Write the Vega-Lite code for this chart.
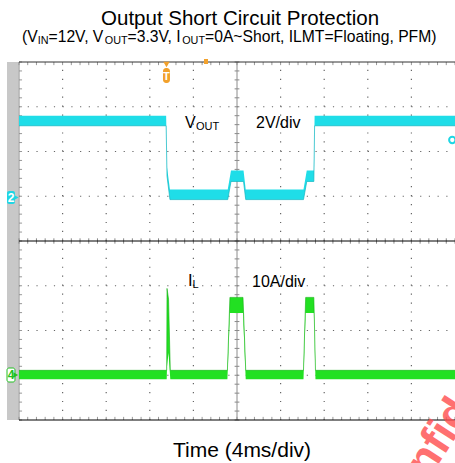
{
  "$schema": "https://vega.github.io/schema/vega-lite/v6.json",
  "width": 436,
  "height": 358,
  "autosize": {"type": "none"},
  "padding": {"left": 19, "top": 62, "right": 0, "bottom": 43},
  "background": "white",
  "config": {"view": {"stroke": null}, "axis": {"disable": true}, "font": "Liberation Sans"},
  "datasets": {
    "one": [{}],
    "vout": [
      {"t": 0, "lo": 3.15, "hi": 3.6},
      {"t": 13.5, "lo": 3.15, "hi": 3.6},
      {"t": 13.58, "lo": 0.9, "hi": 1.3},
      {"t": 13.85, "lo": -0.15, "hi": 0.3},
      {"t": 19.15, "lo": -0.15, "hi": 0.3},
      {"t": 19.45, "lo": 0.66, "hi": 1.15},
      {"t": 20.6, "lo": 0.66, "hi": 1.15},
      {"t": 20.8, "lo": -0.15, "hi": 0.3},
      {"t": 26.1, "lo": -0.15, "hi": 0.3},
      {"t": 26.4, "lo": 0.66, "hi": 1.15},
      {"t": 27.05, "lo": 0.66, "hi": 1.15},
      {"t": 27.12, "lo": 3.15, "hi": 3.6},
      {"t": 40, "lo": 3.15, "hi": 3.6}
    ],
    "il": [
      {"t": 0, "lo": -0.9, "hi": 1.1},
      {"t": 13.55, "lo": -0.9, "hi": 1.1},
      {"t": 13.58, "lo": 2, "hi": 19.4},
      {"t": 13.72, "lo": 5, "hi": 17},
      {"t": 13.88, "lo": -0.9, "hi": 1.1},
      {"t": 19.12, "lo": -0.9, "hi": 1.1},
      {"t": 19.35, "lo": 13.9, "hi": 17.4},
      {"t": 20.55, "lo": 13.9, "hi": 17.4},
      {"t": 20.8, "lo": -0.9, "hi": 1.1},
      {"t": 26.1, "lo": -0.9, "hi": 1.1},
      {"t": 26.3, "lo": 13.9, "hi": 17.4},
      {"t": 27.05, "lo": 13.9, "hi": 17.4},
      {"t": 27.2, "lo": -0.9, "hi": 1.1},
      {"t": 40, "lo": -0.9, "hi": 1.1}
    ],
    "xt": [{"t":0},{"t":0.8},{"t":1.6},{"t":2.4},{"t":3.2},{"t":4},{"t":4.8},{"t":5.6},{"t":6.4},{"t":7.2},{"t":8},{"t":8.8},{"t":9.6},{"t":10.4},{"t":11.2},{"t":12},{"t":12.8},{"t":13.6},{"t":14.4},{"t":15.2},{"t":16},{"t":16.8},{"t":17.6},{"t":18.4},{"t":19.2},{"t":20},{"t":20.8},{"t":21.6},{"t":22.4},{"t":23.2},{"t":24},{"t":24.8},{"t":25.6},{"t":26.4},{"t":27.2},{"t":28},{"t":28.8},{"t":29.6},{"t":30.4},{"t":31.2},{"t":32},{"t":32.8},{"t":33.6},{"t":34.4},{"t":35.2},{"t":36},{"t":36.8},{"t":37.6},{"t":38.4},{"t":39.2},{"t":40}],
    "yt": [{"d":-4},{"d":-3.8},{"d":-3.6},{"d":-3.4},{"d":-3.2},{"d":-3},{"d":-2.8},{"d":-2.6},{"d":-2.4},{"d":-2.2},{"d":-2},{"d":-1.8},{"d":-1.6},{"d":-1.4},{"d":-1.2},{"d":-1},{"d":-0.8},{"d":-0.6},{"d":-0.4},{"d":-0.2},{"d":0},{"d":0.2},{"d":0.4},{"d":0.6},{"d":0.8},{"d":1},{"d":1.2},{"d":1.4},{"d":1.6},{"d":1.8},{"d":2},{"d":2.2},{"d":2.4},{"d":2.6},{"d":2.8},{"d":3},{"d":3.2},{"d":3.4},{"d":3.6},{"d":3.8},{"d":4}]
  },
  "layer": [
    {
      "data": {"name": "one"},
      "layer": [
        {
          "mark": {"type": "rect", "color": "#c8c8c8"},
          "encoding": {
            "x": {"datum": -1.1, "scale": {"domain": [0, 40], "nice": false, "zero": false}},
            "x2": {"datum": -0.06},
            "y": {"datum": -4, "scale": {"domain": [-4, 4], "nice": false, "zero": false}},
            "y2": {"datum": 4}
          }
        },
        {
          "data": {"values": [{"t": 4}, {"t": 8}, {"t": 12}, {"t": 16}, {"t": 24}, {"t": 28}, {"t": 32}, {"t": 36}]},
          "mark": {"type": "rule", "color": "#666666", "strokeWidth": 1.2, "strokeDash": [1.2, 7.75]},
          "encoding": {"x": {"field": "t", "type": "quantitative"}, "y": {"datum": -4}, "y2": {"datum": 4}}
        },
        {
          "data": {"values": [{"d": -3}, {"d": -2}, {"d": -1}, {"d": 1}, {"d": 2}, {"d": 3}]},
          "mark": {"type": "rule", "color": "#666666", "strokeWidth": 1.2, "strokeDash": [1.2, 7.52]},
          "encoding": {"y": {"field": "d", "type": "quantitative"}, "x": {"datum": 0}, "x2": {"datum": 40}}
        },
        {
          "data": {"name": "xt"},
          "mark": {"type": "rule", "color": "#888888"},
          "encoding": {"x": {"field": "t", "type": "quantitative"}, "y": {"datum": -0.06}, "y2": {"datum": 0.06}}
        },
        {
          "data": {"name": "xt"},
          "mark": {"type": "rule", "color": "#999999"},
          "encoding": {"x": {"field": "t", "type": "quantitative"}, "y": {"datum": 4}, "y2": {"datum": 3.93}}
        },
        {
          "data": {"name": "xt"},
          "mark": {"type": "rule", "color": "#999999"},
          "encoding": {"x": {"field": "t", "type": "quantitative"}, "y": {"datum": -4}, "y2": {"datum": -3.93}}
        },
        {
          "data": {"name": "yt"},
          "mark": {"type": "rule", "color": "#888888"},
          "encoding": {"y": {"field": "d", "type": "quantitative"}, "x": {"datum": 19.78}, "x2": {"datum": 20.22}}
        },
        {
          "data": {"name": "yt"},
          "mark": {"type": "rule", "color": "#999999"},
          "encoding": {"y": {"field": "d", "type": "quantitative"}, "x": {"datum": 0}, "x2": {"datum": 0.28}}
        },
        {
          "mark": {"type": "rule", "color": "#8c8c8c"},
          "encoding": {"x": {"datum": 20}, "y": {"datum": -4}, "y2": {"datum": 4}}
        },
        {
          "mark": {"type": "rule", "color": "#888888"},
          "encoding": {"x": {"datum": 0}, "y": {"datum": -4}, "y2": {"datum": 4}}
        },
        {
          "mark": {"type": "rule", "color": "#000000"},
          "encoding": {"y": {"datum": 0}, "x": {"datum": 0}, "x2": {"datum": 40}}
        },
        {
          "mark": {"type": "rule", "color": "#333333"},
          "encoding": {"y": {"datum": 4}, "x": {"datum": 0}, "x2": {"datum": 40}}
        },
        {
          "mark": {"type": "rule", "color": "#000000"},
          "encoding": {"y": {"datum": -4}, "x": {"datum": 0}, "x2": {"datum": 40}}
        }
      ]
    },
    {
      "data": {"name": "vout"},
      "layer": [
        {
          "mark": {"type": "area", "color": "#1fdde8", "opacity": 1},
          "encoding": {
            "x": {"field": "t", "type": "quantitative", "scale": {"domain": [0, 40], "nice": false, "zero": false}},
            "y": {"field": "lo", "type": "quantitative", "scale": {"domain": [-10, 6], "nice": false, "zero": false}},
            "y2": {"field": "hi"}
          }
        },
        {
          "mark": {"type": "line", "color": "#11b5c0", "strokeWidth": 1, "opacity": 0.7},
          "encoding": {
            "x": {"field": "t", "type": "quantitative"},
            "y": {"field": "lo", "type": "quantitative"}
          }
        }
      ]
    },
    {
      "data": {"name": "il"},
      "layer": [
        {
          "mark": {"type": "area", "color": "#22e022", "opacity": 1},
          "encoding": {
            "x": {"field": "t", "type": "quantitative", "scale": {"domain": [0, 40], "nice": false, "zero": false}},
            "y": {"field": "lo", "type": "quantitative", "scale": {"domain": [-10, 70], "nice": false, "zero": false}},
            "y2": {"field": "hi"}
          }
        },
        {
          "mark": {"type": "line", "color": "#13b013", "strokeWidth": 1, "opacity": 0.6},
          "encoding": {
            "x": {"field": "t", "type": "quantitative"},
            "y": {"field": "hi", "type": "quantitative"}
          }
        }
      ]
    },
    {
      "data": {"name": "one"},
      "layer": [
        {
          "mark": {"type": "text", "text": "Output Short Circuit Protection", "fontSize": 20.5, "align": "center", "baseline": "alphabetic", "color": "#000000"},
          "encoding": {
            "x": {"datum": 20.28, "scale": {"domain": [0, 40], "nice": false, "zero": false}},
            "y": {"datum": 4.82, "scale": {"domain": [-4, 4], "nice": false, "zero": false}}
          }
        },
        {"mark": {"type": "text", "text": "(V", "fontSize": 15.7, "align": "left", "baseline": "alphabetic", "color": "#000000"}, "encoding": {"x": {"datum": 0.275}, "y": {"datum": 4.448}}},
        {"mark": {"type": "text", "text": "IN", "fontSize": 10.8, "align": "left", "baseline": "alphabetic", "color": "#000000"}, "encoding": {"x": {"datum": 1.716}, "y": {"datum": 4.403}}},
        {"mark": {"type": "text", "text": "=12V, V", "fontSize": 15.7, "align": "left", "baseline": "alphabetic", "color": "#000000"}, "encoding": {"x": {"datum": 2.706}, "y": {"datum": 4.448}}},
        {"mark": {"type": "text", "text": "OUT", "fontSize": 10.8, "align": "left", "baseline": "alphabetic", "color": "#000000"}, "encoding": {"x": {"datum": 7.872}, "y": {"datum": 4.403}}},
        {"mark": {"type": "text", "text": "=3.3V, I", "fontSize": 15.7, "align": "left", "baseline": "alphabetic", "color": "#000000"}, "encoding": {"x": {"datum": 9.963}, "y": {"datum": 4.448}}},
        {"mark": {"type": "text", "text": "OUT", "fontSize": 10.8, "align": "left", "baseline": "alphabetic", "color": "#000000"}, "encoding": {"x": {"datum": 14.972}, "y": {"datum": 4.403}}},
        {"mark": {"type": "text", "text": "=0A~Short, ILMT=Floating, PFM)", "fontSize": 15.7, "align": "left", "baseline": "alphabetic", "color": "#000000"}, "encoding": {"x": {"datum": 17.064}, "y": {"datum": 4.448}}},
        {"mark": {"type": "text", "text": "Time (4ms/div)", "fontSize": 21, "align": "center", "baseline": "alphabetic", "color": "#000000"}, "encoding": {"x": {"datum": 20.46}, "y": {"datum": -4.816}}},
        {"mark": {"type": "text", "text": "V", "fontSize": 16, "align": "left", "baseline": "alphabetic", "color": "#000000"}, "encoding": {"x": {"datum": 15.229}, "y": {"datum": 2.525}}},
        {"mark": {"type": "text", "text": "OUT", "fontSize": 11, "align": "left", "baseline": "alphabetic", "color": "#000000"}, "encoding": {"x": {"datum": 16.239}, "y": {"datum": 2.48}}},
        {"mark": {"type": "text", "text": "2V/div", "fontSize": 16, "align": "left", "baseline": "alphabetic", "color": "#000000"}, "encoding": {"x": {"datum": 21.743}, "y": {"datum": 2.525}}},
        {"mark": {"type": "text", "text": "I", "fontSize": 16.5, "align": "left", "baseline": "alphabetic", "color": "#000000"}, "encoding": {"x": {"datum": 15.505}, "y": {"datum": -1.006}}},
        {"mark": {"type": "text", "text": "L", "fontSize": 11, "align": "left", "baseline": "alphabetic", "color": "#000000"}, "encoding": {"x": {"datum": 15.917}, "y": {"datum": -1.061}}},
        {"mark": {"type": "text", "text": "10A/div", "fontSize": 16, "align": "left", "baseline": "alphabetic", "color": "#000000"}, "encoding": {"x": {"datum": 21.376}, "y": {"datum": -1.028}}},
        {"mark": {"type": "rect", "color": "#1fd6e4", "cornerRadius": 2}, "encoding": {"x": {"datum": -1.1}, "x2": {"datum": -0.37}, "y": {"datum": 1.117}, "y2": {"datum": 0.827}}},
        {"mark": {"type": "point", "shape": "triangle-right", "filled": true, "color": "#1fd6e4", "size": 45, "opacity": 1}, "encoding": {"x": {"datum": -0.3}, "y": {"datum": 0.972}}},
        {"mark": {"type": "text", "text": "2", "fontSize": 12, "fontWeight": "bold", "align": "center", "baseline": "alphabetic", "color": "#ffffff"}, "encoding": {"x": {"datum": -0.73}, "y": {"datum": 0.872}}},
        {"mark": {"type": "rect", "color": "#ffffff", "stroke": "#22c022", "strokeWidth": 1, "cornerRadius": 2}, "encoding": {"x": {"datum": -1.1}, "x2": {"datum": -0.37}, "y": {"datum": -2.838}, "y2": {"datum": -3.151}}},
        {"mark": {"type": "point", "shape": "triangle-right", "filled": true, "color": "#22c022", "size": 30, "opacity": 1}, "encoding": {"x": {"datum": -0.3}, "y": {"datum": -2.994}}},
        {"mark": {"type": "text", "text": "4", "fontSize": 12, "fontWeight": "bold", "align": "center", "baseline": "alphabetic", "color": "#22c022"}, "encoding": {"x": {"datum": -0.73}, "y": {"datum": -3.084}}},
        {"mark": {"type": "point", "shape": "triangle-down", "filled": true, "color": "#f2a12c", "size": 40, "opacity": 1}, "encoding": {"x": {"datum": 13.53}, "y": {"datum": 3.944}}},
        {"mark": {"type": "rect", "color": "#f2a12c", "cornerRadius": 3}, "encoding": {"x": {"datum": 13.21}, "x2": {"datum": 13.85}, "y": {"datum": 3.866}, "y2": {"datum": 3.531}}},
        {"mark": {"type": "text", "text": "T", "fontSize": 11, "fontWeight": "bold", "align": "center", "baseline": "alphabetic", "color": "#ffffff"}, "encoding": {"x": {"datum": 13.53}, "y": {"datum": 3.6}}},
        {"mark": {"type": "rect", "color": "#f2a12c"}, "encoding": {"x": {"datum": 16.97}, "x2": {"datum": 17.34}, "y": {"datum": 4.067}, "y2": {"datum": 3.955}}},
        {"mark": {"type": "point", "shape": "circle", "filled": false, "color": "#1fd6e4", "fill": "#ffffff", "strokeWidth": 2, "size": 40, "opacity": 1}, "encoding": {"x": {"datum": 39.75}, "y": {"datum": 2.257}}},
        {"mark": {"type": "text", "text": "Confidential", "fontSize": 45, "fontWeight": "bold", "align": "left", "baseline": "alphabetic", "angle": -57, "color": "#ff4d4d", "opacity": 0.8}, "encoding": {"x": {"datum": 34.6}, "y": {"datum": -6.45}}}
      ]
    }
  ],
  "resolve": {"scale": {"y": "independent"}}
}
